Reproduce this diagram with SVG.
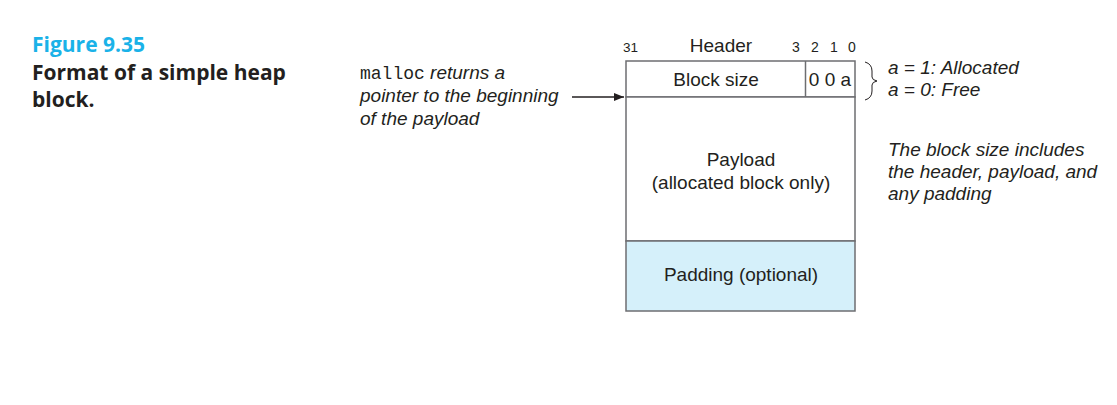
<svg xmlns="http://www.w3.org/2000/svg" width="1117" height="405" viewBox="0 0 1117 405">
<style>
.t{font-family:"Liberation Sans",Arial,sans-serif;fill:#231f20}
.i{font-style:italic}
.cap{font-family:"Open Sans","Noto Sans",sans-serif;font-weight:bold;font-size:21px}
.box{fill:#fff;stroke:#6d6e71;stroke-width:1.5}
</style>
<defs>
<marker id="ah" markerWidth="10" markerHeight="8" refX="10" refY="4" orient="auto" markerUnits="userSpaceOnUse">
<path d="M0,0 L10,4 L0,8 Z" fill="#231f20"/>
</marker>
</defs>
<g id="caption">
<text class="cap" x="32" y="52" fill="#1ab2e8" font-size="22">Figure 9.35</text>
<text class="cap" x="32" y="80" fill="#231f20">Format of a simple heap</text>
<text class="cap" x="32" y="107" fill="#231f20">block.</text>
</g>
<g id="header-labels" class="t">
<text x="623" y="52" font-size="13.5">31</text>
<text x="721" y="52" font-size="19" text-anchor="middle">Header</text>
<text x="792" y="52" font-size="14">3</text>
<text x="811" y="52" font-size="14">2</text>
<text x="830" y="52" font-size="14">1</text>
<text x="848" y="52" font-size="14">0</text>
</g>
<g id="header">
<rect class="box" x="626" y="61" width="229" height="36"/>
<line x1="805.5" y1="61" x2="805.5" y2="97" stroke="#6d6e71" stroke-width="1.5"/>
<text class="t" x="716" y="86" font-size="19" text-anchor="middle">Block size</text>
<text class="t" x="830" y="86" font-size="19" text-anchor="middle">0 0 a</text>
</g>
<g id="payload">
<rect class="box" x="626" y="97" width="229" height="144"/>
<text class="t" x="741" y="166" font-size="19" text-anchor="middle">Payload</text>
<text class="t" x="741" y="189" font-size="19" text-anchor="middle">(allocated block only)</text>
</g>
<g id="padding">
<rect x="626" y="241" width="229" height="70" fill="#d5f0fa" stroke="#6d6e71" stroke-width="1.5"/>
<text class="t" x="741" y="281" font-size="19" text-anchor="middle">Padding (optional)</text>
</g>
<g id="malloc-note">
<text x="360" y="79" font-size="18" class="t"><tspan font-family="'Liberation Mono',monospace" font-style="normal">malloc</tspan><tspan class="i" font-size="19"> returns a</tspan></text>
<text x="360" y="102" font-size="19" class="t i">pointer to the beginning</text>
<text x="360" y="125" font-size="19" class="t i">of the payload</text>
</g>
<g id="bit-note">
<path d="M865,62 Q872,64 872,71 L872,77 Q872,80 877,81 Q872,82 872,85 L872,91 Q872,98 865,100" fill="none" stroke="#231f20" stroke-width="1"/>
<text x="888" y="74" font-size="19" class="t i">a = 1: Allocated</text>
<text x="888" y="96" font-size="19" class="t i">a = 0: Free</text>
</g>
<g id="size-note">
<text x="888" y="156" font-size="19" class="t i">The block size includes</text>
<text x="888" y="178" font-size="19" class="t i">the header, payload, and</text>
<text x="888" y="200" font-size="19" class="t i">any padding</text>
</g>
<g id="connectors">
<line x1="572" y1="97" x2="624" y2="97" stroke="#231f20" stroke-width="1.3" marker-end="url(#ah)"/>
</g>
</svg>
